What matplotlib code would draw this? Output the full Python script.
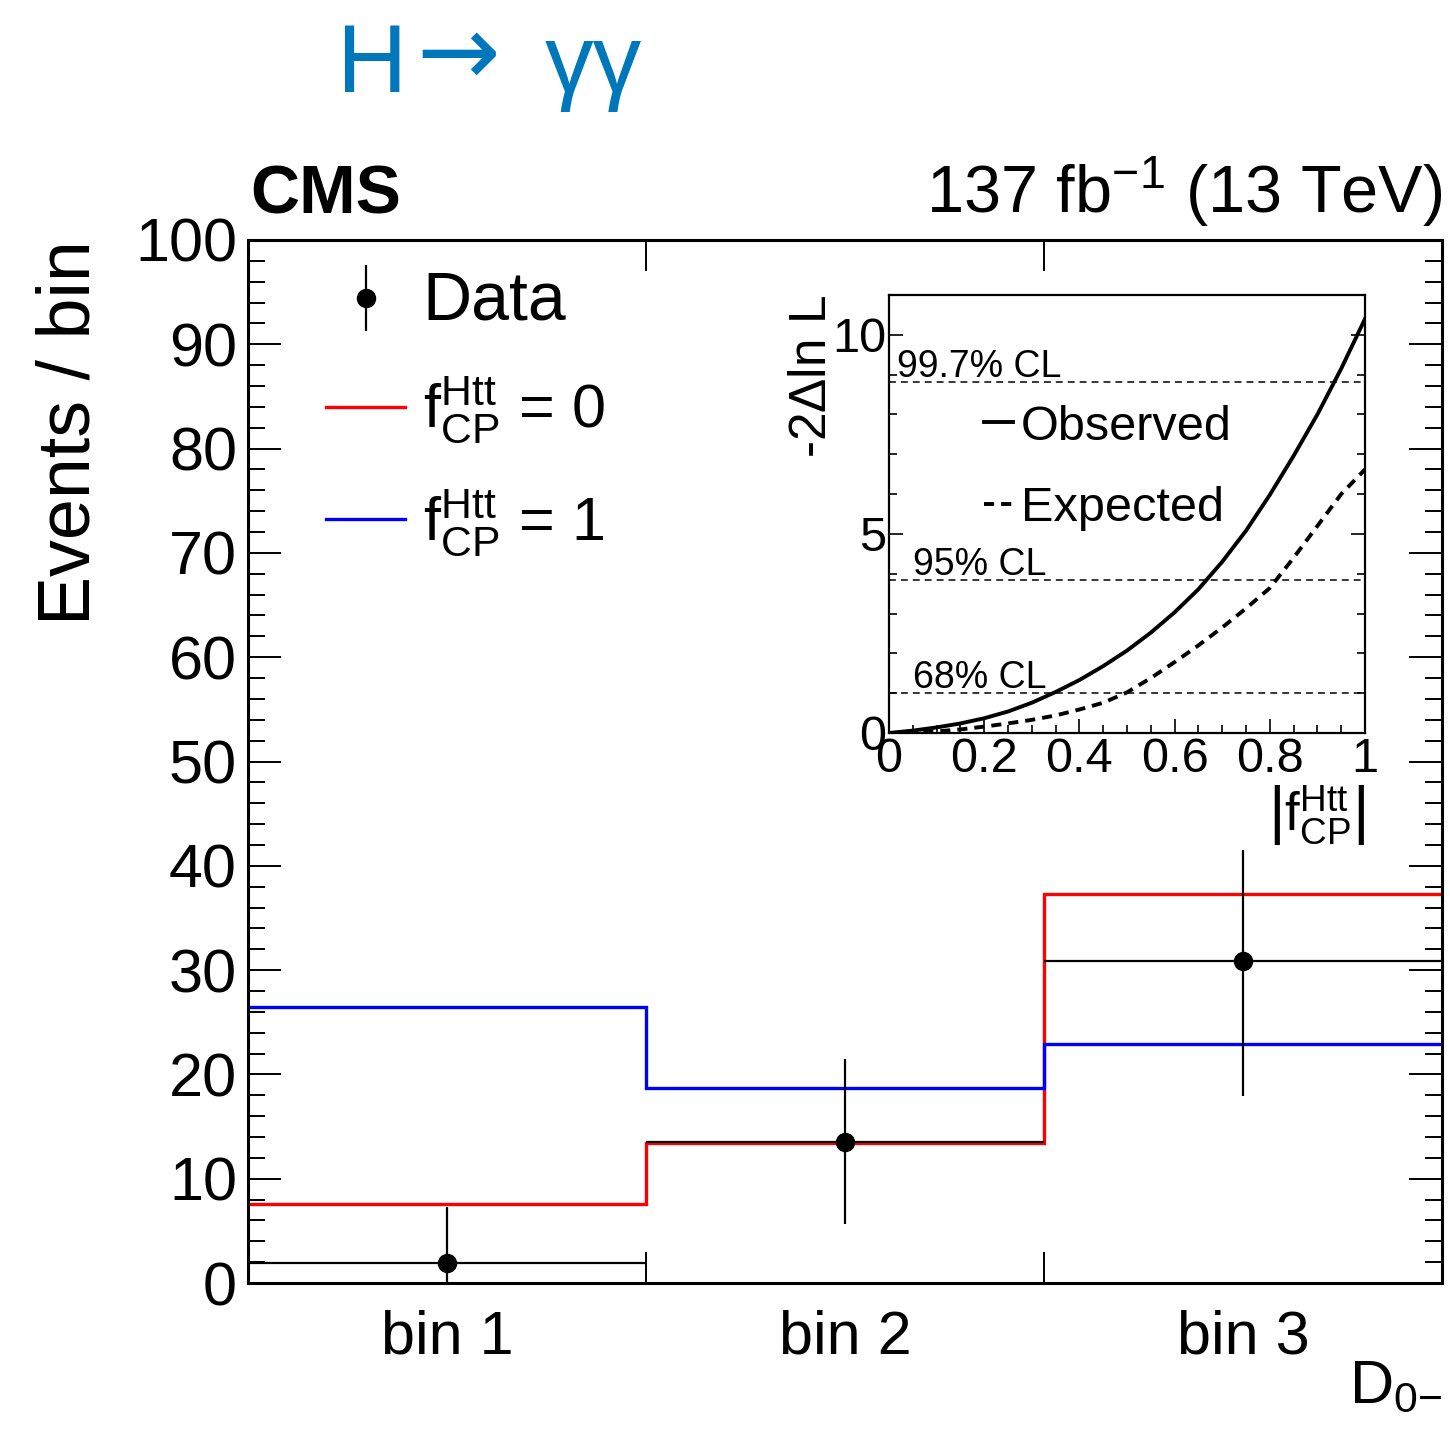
import matplotlib
matplotlib.use('Agg')
import matplotlib.pyplot as plt
from matplotlib.lines import Line2D

plt.rcParams['font.family'] = ['Liberation Sans', 'DejaVu Sans']
plt.rcParams['mathtext.fontset'] = 'custom'
plt.rcParams['mathtext.rm'] = 'Liberation Sans'
plt.rcParams['mathtext.it'] = 'Liberation Sans:italic'
plt.rcParams['mathtext.bf'] = 'Liberation Sans:bold'

# D0- distribution in three bins
bin_edges = [0, 1, 2, 3]
bin_labels = ['bin 1', 'bin 2', 'bin 3']
data_counts = [1.92, 13.55, 30.9]
data_err_lo = [1.92, 7.89, 12.94]
data_err_hi = [5.36, 7.9, 10.6]
pred_fcp0 = [7.57, 13.45, 37.3]
pred_fcp1 = [26.43, 18.67, 22.88]

# likelihood scan vs |fCP|
fcp_scan = [0, 0.05, 0.1, 0.15, 0.2, 0.25, 0.3, 0.35, 0.4, 0.45, 0.5,
            0.55, 0.6, 0.65, 0.7, 0.75, 0.8, 0.85, 0.9, 0.95, 1.0]
nll_obs = [0, 0.06, 0.14, 0.24, 0.37, 0.54, 0.76, 1.03, 1.33, 1.68, 2.07,
           2.52, 3.03, 3.61, 4.3, 5.08, 5.98, 6.96, 8.0, 9.15, 10.4]
nll_exp = [0, 0.01, 0.04, 0.09, 0.16, 0.24, 0.33, 0.44, 0.59, 0.76, 1.02,
           1.38, 1.78, 2.2, 2.65, 3.13, 3.64, 4.4, 5.2, 6.0, 6.62]
cl_levels = [1.0, 3.84, 8.81]
cl_labels = ['68% CL', '95% CL', '99.7% CL']
cl_label_x = [0.05, 0.05, 0.017]

W, H = 1450, 1430
fig = plt.figure(figsize=(W / 100, H / 100), dpi=100)

ax = fig.add_axes([248 / W, 147 / H, 1194 / W, 1043 / H])
centers = [(a + b) / 2 for a, b in zip(bin_edges[:-1], bin_edges[1:])]
half_w = [(b - a) / 2 for a, b in zip(bin_edges[:-1], bin_edges[1:])]

ax.stairs(pred_fcp0, bin_edges, baseline=None, color='#ff0000', lw=2.4)
ax.stairs(pred_fcp1, bin_edges, baseline=None, color='#0000ff', lw=2.4)
ax.errorbar(centers, data_counts, xerr=half_w, yerr=[data_err_lo, data_err_hi],
            fmt='o', color='k', ms=13, elinewidth=1.6, capsize=0, zorder=3)

ax.set_xlim(bin_edges[0], bin_edges[-1])
ax.set_ylim(0, 100)
ax.set_xticks(centers, bin_labels)
ax.set_xticks(bin_edges[1:-1], minor=True)
ax.tick_params(axis='x', which='major', length=0, pad=19, labelsize=44)
ax.tick_params(axis='x', which='minor', length=22, width=1.4, direction='in',
               top=True, bottom=True)
ax.set_yticks(range(0, 101, 10))
ax.set_yticks(range(0, 101, 2), minor=True)
ax.tick_params(axis='y', which='major', length=24, width=1.4, direction='in',
               left=True, right=True, labelsize=44, pad=8)
ax.tick_params(axis='y', which='minor', length=12, width=1.4, direction='in',
               left=True, right=True)
for s in ax.spines.values():
    s.set_linewidth(2.2)

ax.set_ylabel('Events / bin', fontsize=53, ha='right', va='center')
ax.yaxis.set_label_coords(-0.149, 1.0)
ax.set_xlabel(r'$\mathrm{D}_{\mathrm{0{-}}}$', fontsize=44, ha='right', va='top')
ax.xaxis.set_label_coords(1.0, -0.072)

h_data = (Line2D([], [], ls='none', marker='|', ms=48, mew=1.6, color='k'),
          Line2D([], [], ls='none', marker='o', ms=13, color='k'))
h_red = Line2D([], [], color='#ff0000', lw=2.4)
h_blue = Line2D([], [], color='#0000ff', lw=2.4)
leg = ax.legend([h_data, h_red, h_blue],
                ['Data', r'$\mathrm{f}^{\mathrm{Htt}}_{\mathrm{CP}}$ = 0',
                 r'$\mathrm{f}^{\mathrm{Htt}}_{\mathrm{CP}}$ = 1'],
                loc='upper left', bbox_to_anchor=(0.0653, 0.972), frameon=False,
                fontsize=44, handlelength=1.3, handletextpad=0.28,
                labelspacing=0.68, borderpad=0, borderaxespad=0)
leg.get_texts()[0].set_fontsize(49)

# inset: likelihood scan
axi = fig.add_axes([889 / W, (H - 733) / H, 476 / W, 438 / H])
for lev, lab, lx in zip(cl_levels, cl_labels, cl_label_x):
    axi.axhline(lev, color='k', lw=1.1, ls=(0, (4.5, 3.3)))
    axi.annotate(lab, xy=(lx, lev), xycoords=('axes fraction', 'data'),
                 xytext=(0, 4), textcoords='offset points', va='baseline',
                 fontsize=27)
l_obs, = axi.plot(fcp_scan, nll_obs, color='k', lw=2.8)
l_exp, = axi.plot(fcp_scan, nll_exp, color='k', lw=2.8, ls=(0, (2.6, 1.8)))
axi.set_xlim(0, 1)
axi.set_ylim(0, 11)
axi.set_xticks([0, 0.2, 0.4, 0.6, 0.8, 1.0], ['0', '0.2', '0.4', '0.6', '0.8', '1'])
axi.set_xticks([i * 0.05 for i in range(21)], minor=True)
axi.set_yticks([0, 5, 10])
axi.set_yticks(range(0, 12), minor=True)
axi.tick_params(which='major', length=10, width=1.2, direction='in',
                left=True, right=True, labelsize=35)
axi.tick_params(which='minor', length=6, width=1.2, direction='in',
                left=True, right=True)
axi.tick_params(axis='x', pad=3)
axi.tick_params(axis='y', pad=2)
for s in axi.spines.values():
    s.set_linewidth(1.6)
axi.set_ylabel(r'-2$\Delta$ln L', fontsize=37, ha='right', va='center')
axi.yaxis.set_label_coords(-0.16, 1.0)
axi.set_xlabel(r'$\left|\mathrm{f}^{\mathrm{Htt}}_{\mathrm{CP}}\right|$', fontsize=38,
               ha='right', va='top')
axi.xaxis.set_label_coords(1.0, -0.115)
axi.legend([l_obs, l_exp], ['Observed', 'Expected'], loc='upper left',
           bbox_to_anchor=(0.2, 0.75), frameon=False, fontsize=35,
           handlelength=0.6, handletextpad=0.15, labelspacing=0.75,
           borderpad=0, borderaxespad=0)

# decay channel tag
blue = '#0077bb'
fig.text(337 / W, 1 - 92 / H, 'H', fontsize=70, color=blue, va='baseline')
fig.text(416 / W, 1 - 85 / H, '\u2192', fontsize=72, color=blue, va='baseline',
         family='DejaVu Sans')
fig.text(545 / W, 1 - 92 / H, '\u03b3\u03b3', fontsize=70, color=blue, va='baseline')

fig.text(250 / W, 1 - 213 / H, 'CMS', fontsize=49, fontweight='bold',
         va='baseline', ha='left')
fig.text(1442 / W, 1 - 213 / H, r'137 fb$^{\mathrm{-1}}$ (13 TeV)', fontsize=48,
         va='baseline', ha='right')

fig.savefig('out.png', dpi=100)
